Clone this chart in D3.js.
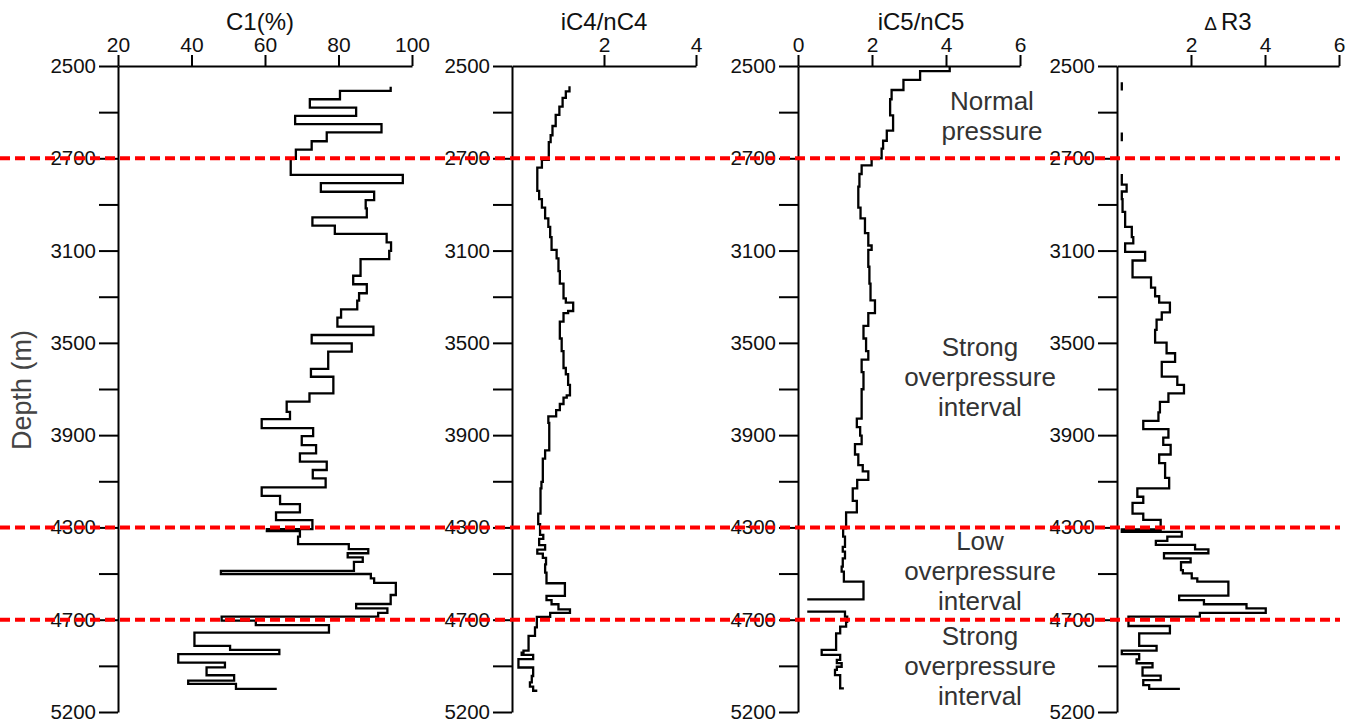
<!DOCTYPE html>
<html>
<head>
<meta charset="utf-8">
<script src="https://cdn.jsdelivr.net/npm/d3@7/dist/d3.min.js"></script>
<style>
  body { margin: 0; background: #fff; }
  svg { display: block; }
  text { font-family: "Liberation Sans", Arial, sans-serif; }
</style>
</head>
<body>
<div id="chart"></div>
<script>
// depth axis (the original axis is not uniform: labels every 2 ticks)
var depthLabels = [2500, 2700, 3100, 3500, 3900, 4300, 4700, 5200];
var depthMinor = [2600, 2900, 3300, 3700, 4100, 4500, 4950];
var boundaryDepths = [2700, 4300, 4700];

// C1 (%) : value holds from depth[i] down to depth[i+1]
var c1Depth = [2545, 2554, 2572, 2590, 2608, 2626, 2644, 2663, 2681, 2702, 2772, 2808, 2845, 2881, 2917, 2956, 2992, 3028, 3064, 3101,
  3137, 3209, 3246, 3285, 3317, 3355, 3391, 3430, 3466, 3502, 3538, 3613, 3647, 3719, 3755, 3799, 3831, 3870, 3904, 3943,
  3979, 4015, 4051, 4087, 4126, 4163, 4199, 4235, 4268, 4307, 4316, 4340, 4372, 4394, 4412, 4430, 4449, 4488, 4502, 4521,
  4540, 4593, 4632, 4651, 4670, 4687, 4705, 4729, 4770, 4842, 4864, 4887, 4933, 4958, 5001, 5030, 5048, 5075];
var c1Value = [94.2, 80.4, 72.2, 84.8, 68.2, 91.7, 76.8, 72.7, 68.4, 67.0, 97.5, 75.2, 89.7, 87.4, 87.7, 72.9, 79.0, 93.1, 94.3, 93.8,
  86.0, 84.0, 87.7, 85.6, 85.1, 80.7, 79.7, 89.5, 72.7, 83.6, 77.2, 72.5, 78.6, 72.1, 65.9, 66.8, 59.1, 73.1, 70.0, 73.9,
  69.5, 76.8, 73.0, 76.5, 59.1, 64.1, 69.5, 63.0, 72.9, 60.5, 69.5, 69.0, 82.8, 88.1, 82.5, 86.6, 84.2, 48.0, 88.8, 89.7,
  95.6, 94.2, 84.8, 93.3, 90.8, 48.2, 57.5, 77.4, 40.8, 50.5, 63.9, 36.4, 49.1, 44.1, 51.6, 39.1, 52.1, 63.2];

// iC4/nC4
var ic4Depth = [2544, 2555, 2569, 2588, 2606, 2630, 2650, 2665, 2707, 2740, 2841, 2877, 2914, 2960, 2997, 3042, 3097, 3134,
  3189, 3243, 3307, 3326, 3362, 3371, 3408, 3481, 3536, 3609, 3636, 3682, 3728, 3737, 3765, 3792, 3819, 3847, 3966, 4002,
  4103, 4131, 4240, 4286, 4332, 4350, 4377, 4396, 4414, 4432, 4460, 4496, 4542, 4597, 4615, 4633, 4655, 4670, 4688, 4742,
  4788, 4868, 4879, 4891, 4914, 4959, 5005, 5040, 5062, 5085];
var ic4Value = [1.25, 1.17, 1.10, 1.03, 0.95, 0.88, 0.84, 0.80, 0.65, 0.55, 0.59, 0.65, 0.72, 0.79, 0.83, 0.86, 0.97, 1.01,
  1.04, 1.12, 1.17, 1.33, 1.22, 1.12, 1.04, 1.08, 1.12, 1.17, 1.22, 1.26, 1.19, 1.12, 1.04, 0.96, 0.79, 0.81, 0.72, 0.67,
  0.64, 0.62, 0.57, 0.61, 0.68, 0.59, 0.72, 0.55, 0.67, 0.74, 0.72, 0.75, 1.15, 0.75, 0.86, 1.01, 1.26, 0.83, 0.54, 0.50,
  0.36, 0.25, 0.21, 0.46, 0.14, 0.46, 0.43, 0.39, 0.46, 0.55];

// iC5/nC5 (null = gap in the log)
var ic5Depth = [2500, 2511, 2530, 2552, 2572, 2607, 2640, 2662, 2679, 2700, 2731, 2768, 2823, 2914, 2960, 3024, 3078, 3097, 3170, 3243,
  3316, 3371, 3426, 3481, 3536, 3573, 3627, 3701, 3828, 3865, 3902, 3939, 3984, 4030, 4057, 4094, 4131, 4185, 4235, 4304,
  4340, 4384, 4405, 4434, 4470, 4492, 4535, 4612, 4612, 4665, 4665, 4687, 4711, 4738, 4774, 4864, 4891, 4918, 4935, 4955,
  4972, 5000, 5072];
var ic5Value = [4.10, 3.30, 2.85, 2.53, 2.49, 2.57, 2.40, 2.30, 2.26, 1.99, 1.72, 1.66, 1.63, 1.69, 1.81, 1.90, 1.99, 1.90, 1.93, 1.96,
  2.08, 1.90, 1.77, 1.84, 1.90, 1.72, 1.77, 1.72, 1.59, 1.68, 1.72, 1.54, 1.63, 1.75, 1.90, 1.60, 1.48, 1.59, 1.30, 1.22,
  1.27, 1.21, 1.27, 1.21, 1.18, 1.24, 1.77, 0.25, null, 0.25, 1.27, 1.33, 1.30, 1.14, 1.03, 0.64, 1.14, 1.05, 1.18, 1.05,
  1.00, 1.14, 1.24];

// ΔR3
var dr3Depth = [2535, 2553, 2553, 2644, 2663, 2663, 2768, 2814, 2844, 2877, 2932, 2997, 3042, 3069, 3106, 3143,
  3216, 3261, 3298, 3326, 3368, 3399, 3444, 3499, 3545, 3582, 3646, 3682, 3719, 3756, 3801, 3838, 3874, 3911, 3942, 3984,
  4021, 4085, 4131, 4167, 4194, 4240, 4267, 4309, 4319, 4340, 4358, 4376, 4395, 4412, 4434, 4451, 4485, 4499, 4521, 4535,
  4596, 4615, 4633, 4651, 4670, 4687, 4734, 4774, 4842, 4868, 4886, 4915, 4936, 4958, 5003, 5027, 5054, 5075];
var dr3Value = [0.13, 0.13, null, 0.13, 0.13, null, 0.13, 0.26, 0.13, 0.15, 0.22, 0.40, 0.44, 0.22, 0.76, 0.42,
  0.92, 1.03, 1.14, 1.43, 1.21, 1.07, 1.03, 1.34, 1.57, 1.21, 1.63, 1.81, 1.39, 1.16, 1.12, 0.71, 1.39, 1.25, 1.45, 1.14,
  1.30, 1.41, 0.55, 0.71, 0.42, 0.71, 1.18, 0.13, 1.75, 1.36, 1.05, 2.11, 2.47, 1.27, 1.99, 1.73, 1.78, 2.02, 2.17, 3.01,
  1.68, 2.35, 3.50, 4.02, 2.24, 0.31, 1.43, 0.60, 1.07, 0.13, 0.60, 0.53, 0.96, 0.69, 1.18, 0.71, 0.87, 1.70];

var zoneLabels = [
  ["Normal", "pressure"],
  ["Strong", "overpressure", "interval"],
  ["Low", "overpressure", "interval"],
  ["Strong", "overpressure", "interval"]
];

var width = 1354, height = 725;

var svg = d3.select("#chart").append("svg")
  .attr("width", width)
  .attr("height", height);

var y = d3.scaleLinear()
  .domain([2500, 2700, 4700, 5200])
  .range([66, 158.3, 619.7, 712]);

var panels = [
  {title: "C1(%)", tx: 260, depth: c1Depth, value: c1Value, domain: [20, 100], range: [118, 412], ticks: [20, 40, 60, 80, 100]},
  {title: "iC4/nC4", tx: 604, depth: ic4Depth, value: ic4Value, domain: [0, 4], range: [512, 696], ticks: [2, 4]},
  {title: "iC5/nC5", tx: 921, depth: ic5Depth, value: ic5Value, domain: [0, 6], range: [798, 1020], ticks: [0, 2, 4, 6]},
  {title: "R3", delta: true, tx: 1228, depth: dr3Depth, value: dr3Value, domain: [0, 6], range: [1117, 1339], ticks: [2, 4, 6]}
];

panels.forEach(function(p) {
  var x = d3.scaleLinear().domain(p.domain).range(p.range);

  // depth axis
  var ya = svg.append("g")
    .attr("transform", "translate(" + p.range[0] + ",0)")
    .call(d3.axisLeft(y)
      .tickValues(depthLabels.concat(depthMinor))
      .tickSize(19)
      .tickSizeOuter(0)
      .tickPadding(3)
      .tickFormat(function(d) { return depthLabels.indexOf(d) >= 0 ? d : ""; }));
  ya.selectAll("text").attr("font-size", 20.5).attr("font-family", null).attr("fill", "#111");

  // value axis on top
  var xa = svg.append("g")
    .attr("transform", "translate(0," + y(2500) + ")")
    .call(d3.axisTop(x)
      .tickValues(p.ticks)
      .tickSize(11)
      .tickSizeOuter(0)
      .tickPadding(3)
      .tickFormat(d3.format("d")));
  xa.selectAll("text").attr("font-size", 21).attr("font-family", null).attr("fill", "#111");

  svg.selectAll(".domain, .tick line")
    .attr("stroke", "#000")
    .attr("stroke-width", 2);

  // title
  var t = svg.append("text")
    .attr("x", p.tx)
    .attr("y", 30)
    .attr("text-anchor", "middle")
    .attr("font-size", 24)
    .attr("fill", "#111");
  if (p.delta) {
    t.append("tspan").attr("font-size", 19).attr("font-weight", 300).text("\u0394");
    t.append("tspan").attr("dx", 4).text(p.title);
  } else {
    t.text(p.title);
  }

  // step log
  var pts = p.depth.map(function(d, i) { return {d: d, v: p.value[i]}; });
  var line = d3.line()
    .defined(function(d) { return d.v !== null; })
    .x(function(d) { return x(d.v); })
    .y(function(d) { return y(d.d); })
    .curve(d3.curveStepBefore);

  svg.append("path")
    .datum(pts)
    .attr("fill", "none")
    .attr("stroke", "#000")
    .attr("stroke-width", 2.3)
    .attr("d", line);
});

// depth title
svg.append("text")
  .attr("transform", "translate(31,390) rotate(-90)")
  .attr("text-anchor", "middle")
  .attr("font-size", 27)
  .attr("fill", "#444")
  .text("Depth (m)");

// zone annotations
var zoneY = [101, 347, 541, 636];
var zoneX = [992, 980, 980, 980];
zoneLabels.forEach(function(lines, k) {
  var txt = svg.append("text")
    .attr("text-anchor", "middle")
    .attr("font-size", 26)
    .attr("fill", "#333");
  lines.forEach(function(s, j) {
    txt.append("tspan")
      .attr("x", zoneX[k])
      .attr("y", zoneY[k] + 9 + j * 30)
      .text(s);
  });
});

// pressure boundaries
svg.selectAll(".boundary")
  .data(boundaryDepths)
  .enter().append("line")
  .attr("class", "boundary")
  .attr("x1", 0)
  .attr("x2", 1340)
  .attr("y1", function(d) { return y(d); })
  .attr("y2", function(d) { return y(d); })
  .attr("stroke", "#ff0000")
  .attr("stroke-width", 4)
  .attr("stroke-dasharray", "10,5");
</script>
</body>
</html>
